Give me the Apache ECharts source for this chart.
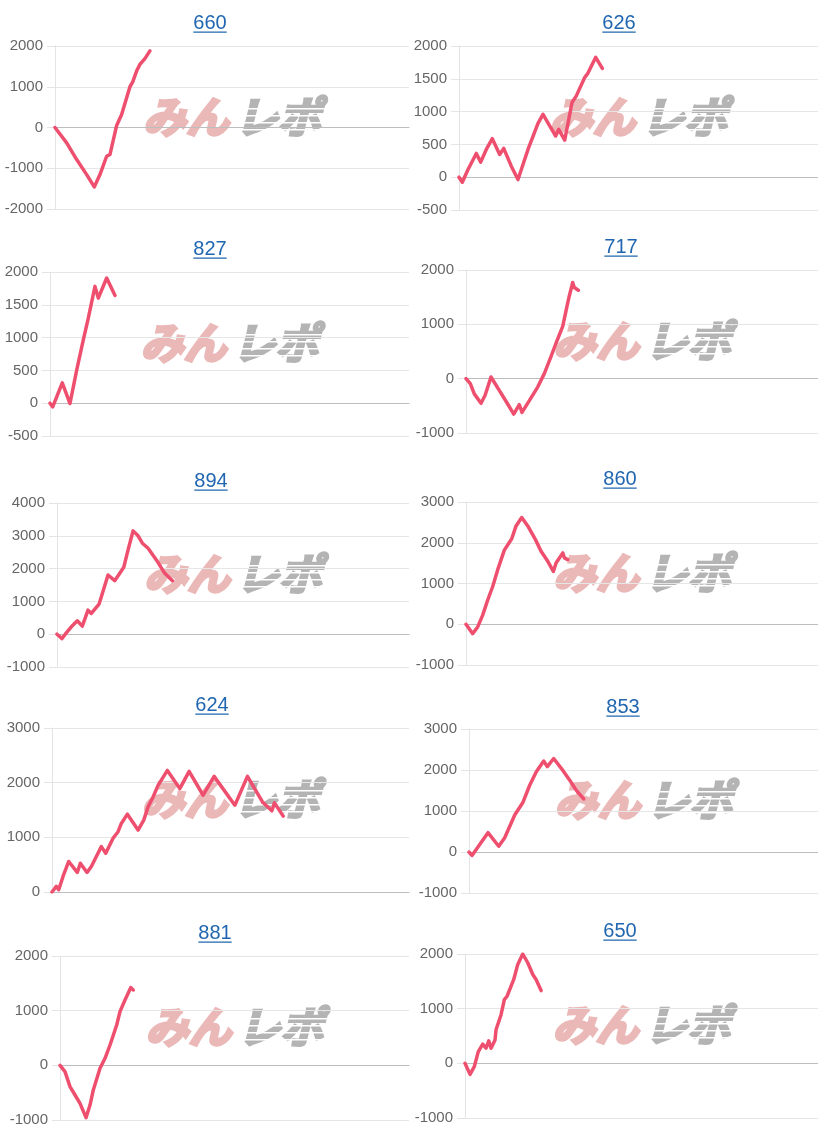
<!DOCTYPE html>
<html><head><meta charset="utf-8">
<script src="https://cdn.jsdelivr.net/npm/echarts/dist/echarts.min.js"></script>
<style>html,body{margin:0;padding:0;background:#fff}#c{width:818px;height:1140px}</style>
</head><body><div id="c"></div>
<script>
// ---- data (x = games played, y = coin difference) ----
const titles = ['660','626','827','717','894','860','624','853','881','650'];

const games660 = [0,297,551,805,998,1143,1313,1397,1524,1567,1694,1905,1974,2075,2159,2286,2413];
const diff660  = [0,-377,-787,-1156,-1459,-1156,-705,-664,-131,49,320,1000,1115,1385,1549,1689,1880];

const games626 = [0,83,226,434,544,684,835,1020,1121,1311,1479,1730,1980,2106,2274,2424,2499,2650,2833,2941,3151,3234,3427,3593];
const diff626  = [0,-77,117,362,230,423,587,347,439,168,-36,423,821,959,781,628,730,566,1138,1240,1520,1587,1827,1658];

const games827 = [0,68,308,501,669,835,960,1128,1211,1421,1630];
const diff827  = [0,-56,311,-5,505,964,1296,1781,1602,1908,1643];

const games717 = [0,110,212,384,486,639,851,1066,1220,1363,1432,1619,1833,2002,2173,2301,2473,2583,2641,2728,2769,2872];
const diff717  = [0,-93,-280,-453,-311,31,-217,-466,-652,-478,-621,-404,-155,93,404,652,963,1335,1522,1770,1677,1627];

const games894 = [0,128,238,366,519,647,793,878,1075,1134,1305,1476,1707,1817,1945,2073,2183,2329,2541,2756,2951];
const diff894  = [0,-133,41,224,408,245,734,632,918,1142,1805,1632,2040,2570,3150,2999,2774,2621,2264,1856,1632];

const games860 = [0,171,299,427,555,683,811,980,1169,1280,1425,1579,1773,1919,2091,2234,2303,2475,2516,2602];
const diff860  = [0,-231,-66,223,595,926,1339,1818,2099,2413,2620,2413,2083,1793,1545,1297,1504,1752,1628,1587];

const games624 = [0,109,169,278,421,638,714,883,992,1118,1244,1355,1539,1665,1748,1900,2170,2313,2422,2548,2674,2909,3222,3457,3810,4087,4610,4927,5306,5543,5609,5828];
const diff624  = [0,103,42,285,558,358,527,358,467,648,830,709,982,1103,1254,1424,1133,1315,1557,1739,1951,2224,1891,2206,1770,2115,1588,2115,1648,1485,1630,1388];

const games853 = [0,77,276,490,766,921,1179,1393,1565,1736,1926,2019,2184,2380,2597,2767,2958];
const diff853  = [0,-83,182,471,140,347,901,1215,1628,1959,2220,2083,2280,2041,1752,1504,1297];

const games881 = [0,129,258,387,516,671,774,859,1032,1161,1290,1462,1547,1676,1823,1890];
const diff881  = [0,-116,-390,-543,-695,-957,-726,-451,-55,128,372,738,982,1195,1421,1378];

const games650 = [0,128,237,339,452,536,605,664,766,791,919,1003,1072,1243,1345,1472,1600,1728,1812,1940];
const diff650  = [0,-202,-61,215,350,276,411,276,429,614,890,1166,1227,1534,1810,2000,1840,1626,1534,1331];

const yMins  = [-2000,-500,-500,-1000,-1000,-1000,0,-1000,-1000,-1000];
const yMaxs  = [2000,2000,2000,2000,4000,3000,3000,3000,2000,2000];
const ySteps = [1000,500,500,1000,1000,1000,1000,1000,1000,1000];
const xMax = 9000;

const gamesList = [games660,games626,games827,games717,games894,games860,games624,games853,games881,games650];
const diffList  = [diff660,diff626,diff827,diff717,diff894,diff860,diff624,diff853,diff881,diff650];

// ---- layout (pixels) ----
const layout = [
  {l:55,  t:46,  r:409, b:209, tx:210, ty:23},
  {l:459, t:46,  r:818, b:210, tx:619, ty:23},
  {l:50,  t:272, r:409, b:436, tx:210, ty:249},
  {l:466, t:270, r:818, b:433, tx:621, ty:247},
  {l:57,  t:503, r:409, b:667, tx:211, ty:481},
  {l:466, t:502, r:818, b:665, tx:620, ty:479},
  {l:52,  t:728, r:409, b:892, tx:212, ty:705},
  {l:469, t:729, r:818, b:893, tx:623, ty:707},
  {l:60,  t:956, r:409, b:1120, tx:215, ty:933},
  {l:465, t:954, r:818, b:1118, tx:620, ty:931}
];

const LINE = '#ef4f6e';
const TITLE_FONT = '20px "Liberation Sans", Arial, sans-serif';
const WM_FONT = 'italic bold 43px "Noto Sans CJK JP"';
const mctx = document.createElement('canvas').getContext('2d');
mctx.font = TITLE_FONT;

const grid = [], xAxis = [], yAxis = [], series = [], graphic = [];
layout.forEach((g, i) => {
  grid.push({left: g.l, top: g.t, width: g.r - g.l, height: g.b - g.t});
  xAxis.push({
    type: 'value', gridIndex: i, min: 0, max: xMax,
    axisLine: {show: true, onZero: true, lineStyle: {color: '#bdbdbd', width: 1}},
    axisTick: {show: false}, axisLabel: {show: false}, splitLine: {show: false}
  });
  yAxis.push({
    type: 'value', gridIndex: i, min: yMins[i], max: yMaxs[i], interval: ySteps[i],
    axisLine: {show: true, lineStyle: {color: '#e4e4e4'}},
    axisTick: {show: true, length: 8, lineStyle: {color: '#e4e4e4'}},
    axisLabel: {color: '#666', fontSize: 15, margin: 12, fontFamily: '"Liberation Sans", Arial, sans-serif',
      formatter: v => String(v)},
    splitLine: {show: true, lineStyle: {color: '#e6e6e6', width: 1}}
  });
  series.push({
    type: 'line', xAxisIndex: i, yAxisIndex: i,
    data: gamesList[i].map((x, k) => [x, diffList[i][k]]),
    showSymbol: false, symbol: 'none',
    lineStyle: {color: LINE, width: 3.5, join: 'round', cap: 'round'},
    animation: false, z: 5
  });
  // title with underline
  const tw = mctx.measureText(titles[i]).width;
  graphic.push({type: 'text', x: g.tx, y: g.ty, z: 10,
    style: {text: titles[i], fill: '#2066b0', font: TITLE_FONT, textAlign: 'center', textVerticalAlign: 'middle'}});
  graphic.push({type: 'rect', shape: {x: g.tx - tw / 2, y: g.ty + 8.5, width: tw, height: 1.3}, z: 10,
    style: {fill: '#2066b0'}});
  // watermark
  const cx = (g.l + g.r) / 2, cy = g.t + 71;
  graphic.push({type: 'text', x: cx - 3, y: cy, z: 0, silent: true,
    style: {text: 'みん', fill: '#ebb8b8', stroke: '#ebb8b8', lineWidth: 3, font: WM_FONT, textAlign: 'right', textVerticalAlign: 'middle'}});
  graphic.push({type: 'text', x: cx + 3, y: cy, z: 0, silent: true,
    style: {text: 'レポ', fill: '#b4b4b4', stroke: '#b4b4b4', lineWidth: 3, font: WM_FONT, textAlign: 'left', textVerticalAlign: 'middle'}});
  // speed-line stripes across the grey part of the logo
  [-9, -2, 5, 12].forEach(dy => {
    graphic.push({type: 'rect', silent: true, z: 1,
      shape: {x: cx + 2, y: cy + dy, width: 98, height: 1.6}, style: {fill: '#ffffff'}});
  });
});

const chart = echarts.init(document.getElementById('c'), null, {renderer: 'canvas'});
chart.setOption({animation: false, grid, xAxis, yAxis, series, graphic});
</script>
</body></html>
